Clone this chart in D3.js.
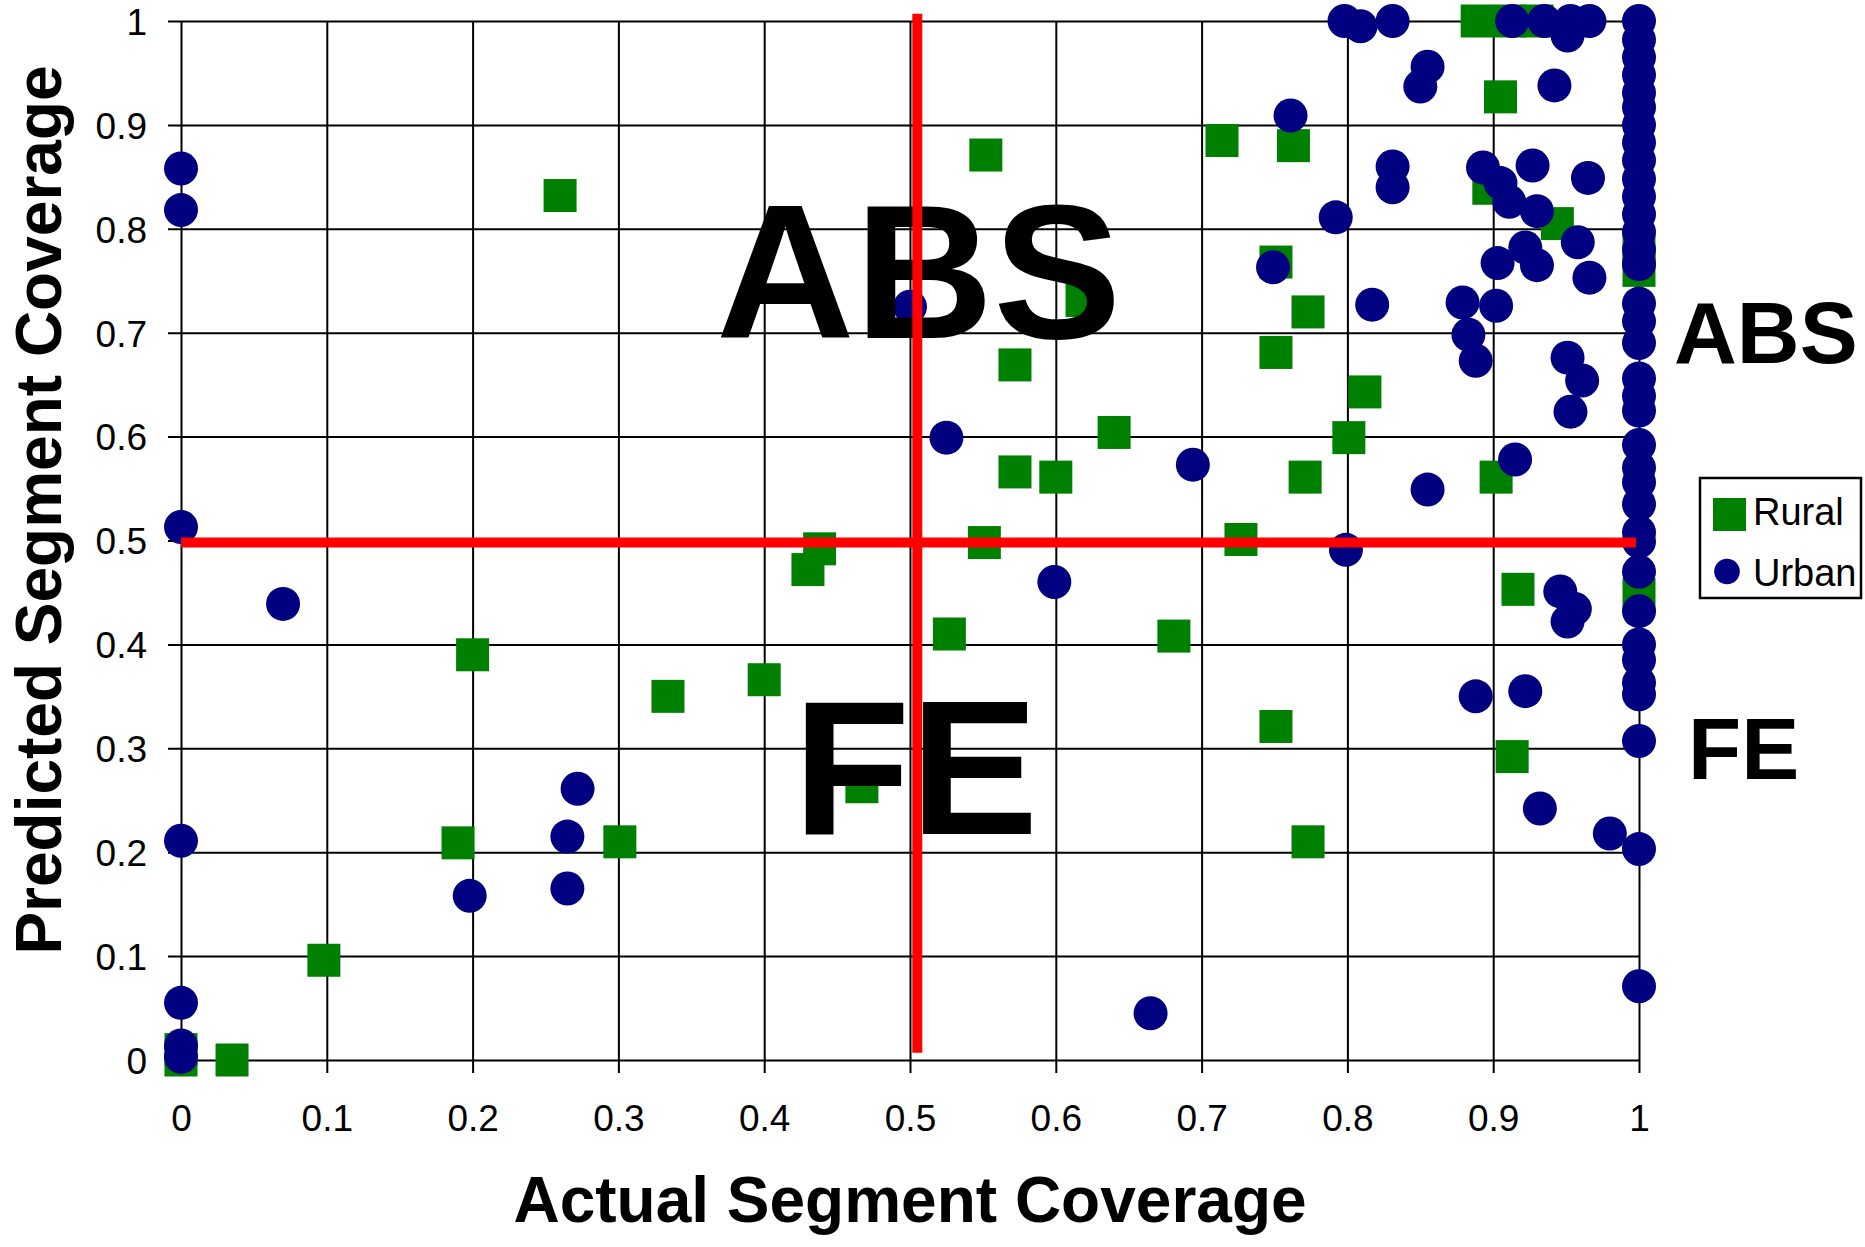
<!DOCTYPE html>
<html>
<head>
<meta charset="utf-8">
<script src="https://cdn.jsdelivr.net/npm/d3@7"></script>
<style>
  body { margin: 0; background: #fff; }
  text { font-family: "Liberation Sans", Arial, Helvetica, sans-serif; }
</style>
</head>
<body>
<div id="chart"></div>
<script>
const xTicks = [0, 0.1, 0.2, 0.3, 0.4, 0.5, 0.6, 0.7, 0.8, 0.9, 1];
const xTickLabels = ["0", "0.1", "0.2", "0.3", "0.4", "0.5", "0.6", "0.7", "0.8", "0.9", "1"];
const yTicks = [0, 0.1, 0.2, 0.3, 0.4, 0.5, 0.6, 0.7, 0.8, 0.9, 1];
const yTickLabels = ["0", "0.1", "0.2", "0.3", "0.4", "0.5", "0.6", "0.7", "0.8", "0.9", "1"];

// Rural segments (green squares)
const ruralX = [0.26, 0.552, 0.714, 0.763, 0.889, 0.911, 0.93, 0.905, 0.944, 0.897,
  0.751, 0.773, 0.751, 0.812, 1.0, 1.0, 0.801, 0.771, 0.902, 0.727,
  0.917, 1.0, 0.751, 0.913, 0.773, 0.64, 0.572, 0.6, 0.551, 0.438,
  0.43, 0.527, 0.681, 0.4, 0.334, 0.467, 0.572, 0.618, 0.2, 0.19,
  0.301, 0.098, 0.035, 0.0, 0.0];
const ruralY = [0.832, 0.871, 0.885, 0.88, 1.0, 1.0, 1.0, 0.927, 0.805, 0.839,
  0.768, 0.72, 0.681, 0.643, 0.78, 0.76, 0.599, 0.561, 0.561, 0.501,
  0.453, 0.448, 0.321, 0.292, 0.21, 0.604, 0.566, 0.561, 0.498, 0.492,
  0.472, 0.41, 0.408, 0.366, 0.35, 0.263, 0.669, 0.731, 0.39, 0.209,
  0.21, 0.096, 0.0, 0.0, 0.01];

// Urban segments (navy circles)
const urbanX = [0, 0, 0, 0, 0, 0, 0,
  0.07, 0.272, 0.265, 0.198, 0.265,
  0.665, 0.5, 0.525, 0.694, 0.599,
  0.798, 0.809, 0.831, 0.913, 0.935, 0.953, 0.966, 0.951,
  0.855, 0.85, 0.942, 0.761,
  0.831, 0.831, 0.893, 0.905, 0.911, 0.927, 0.93, 0.965,
  0.792, 0.749, 0.817, 0.903, 0.922, 0.93, 0.958, 0.966,
  0.879, 0.902, 0.883, 0.888, 0.951, 0.961, 0.953,
  0.915, 0.855, 0.799, 0.946, 0.956, 0.951,
  0.888, 0.922, 0.932, 0.98,
  1, 1, 1, 1, 1, 1, 1, 1, 1, 1, 1, 1, 1, 1, 1, 1, 1, 1,
  1, 1, 1, 1, 1, 1, 1, 1, 1, 1, 1, 1, 1, 1, 1, 1, 1, 1];
const urbanY = [0.858, 0.818, 0.513, 0.211, 0.055, 0.014, 0.003,
  0.439, 0.261, 0.215, 0.158, 0.165,
  0.045, 0.725, 0.599, 0.573, 0.46,
  1.0, 0.995, 1.0, 1.0, 1.0, 1.0, 1.0, 0.986,
  0.956, 0.937, 0.938, 0.909,
  0.86, 0.84, 0.859, 0.844, 0.826, 0.861, 0.817, 0.849,
  0.811, 0.763, 0.727, 0.767, 0.782, 0.765, 0.787, 0.753,
  0.729, 0.726, 0.698, 0.673, 0.676, 0.654, 0.624,
  0.578, 0.549, 0.491, 0.451, 0.434, 0.422,
  0.35, 0.355, 0.242, 0.218,
  1.0, 0.982, 0.965, 0.948, 0.931, 0.917, 0.9, 0.883, 0.866, 0.848, 0.831, 0.814,
  0.797, 0.78, 0.766, 0.728, 0.711, 0.69, 0.656, 0.639, 0.625, 0.592, 0.57, 0.556,
  0.535, 0.508, 0.499, 0.47, 0.432, 0.4, 0.385, 0.363, 0.352, 0.307, 0.203, 0.071];

// Quadrant divider lines, in data units
const dividerX1 = [0.505, 0];
const dividerY1 = [0.007, 0.498];
const dividerX2 = [0.505, 0.998];
const dividerY2 = [1.007, 0.498];

const rural = ruralX.map((v, i) => ({ x: v, y: ruralY[i] }));
const urban = urbanX.map((v, i) => ({ x: v, y: urbanY[i] }));
const dividers = dividerX1.map((v, i) => ({ x1: v, y1: dividerY1[i], x2: dividerX2[i], y2: dividerY2[i] }));

const width = 1865;
const height = 1247;
const green = "#008000";
const navy = "#000080";

const svg = d3.select("#chart").append("svg")
  .attr("width", width)
  .attr("height", height)
  .style("display", "block")
  .style("background", "#fff");

const x = d3.scaleLinear().domain([0, 1]).range([181, 1639]);
const y = d3.scaleLinear().domain([0, 1]).range([1060, 21]);
const tickOut = 13;

// Vertical grid lines + x ticks
const xAxis = svg.append("g")
  .attr("transform", `translate(0, ${y(0) + tickOut})`)
  .call(d3.axisBottom(x)
    .tickValues(xTicks)
    .tickFormat((d, i) => xTickLabels[i])
    .tickSize(-(y(0) + tickOut - y(1)))
    .tickPadding(32));
xAxis.select(".domain").remove();
xAxis.selectAll("line").attr("stroke", "#000").attr("stroke-width", 2);
xAxis.selectAll("text")
  .attr("fill", "#000")
  .style("font-size", "37px")
  .style("font-family", "'Liberation Sans', Arial, sans-serif");

// Horizontal grid lines + y ticks
const yAxis = svg.append("g")
  .attr("transform", `translate(${x(0) - tickOut}, 0)`)
  .call(d3.axisLeft(y)
    .tickValues(yTicks)
    .tickFormat((d, i) => yTickLabels[i])
    .tickSize(-(x(1) - x(0) + tickOut))
    .tickPadding(21));
yAxis.select(".domain").remove();
yAxis.selectAll("line").attr("stroke", "#000").attr("stroke-width", 2);
yAxis.selectAll("text")
  .attr("fill", "#000")
  .attr("dy", "0.36em")
  .style("font-size", "37px")
  .style("font-family", "'Liberation Sans', Arial, sans-serif");

// Markers
const sq = 33;
svg.append("g").selectAll("rect")
  .data(rural)
  .join("rect")
  .attr("x", d => x(d.x) - sq / 2)
  .attr("y", d => y(d.y) - sq / 2)
  .attr("width", sq)
  .attr("height", sq)
  .attr("fill", green);

svg.append("g").selectAll("circle")
  .data(urban)
  .join("circle")
  .attr("cx", d => x(d.x))
  .attr("cy", d => y(d.y))
  .attr("r", 17)
  .attr("fill", navy);

// Region labels
const labels = svg.append("g").attr("font-weight", "bold").attr("fill", "#000");
labels.append("text").attr("x", 716).attr("y", 338).attr("font-size", 192).text("ABS");
labels.append("text").attr("x", 793).attr("y", 834).attr("font-size", 192).text("FE");
labels.append("text").attr("x", 1674).attr("y", 363).attr("font-size", 87).text("ABS");
labels.append("text").attr("x", 1688).attr("y", 779).attr("font-size", 87).text("FE");

// Red quadrant lines on top
svg.append("g").selectAll("line")
  .data(dividers)
  .join("line")
  .attr("x1", d => x(d.x1))
  .attr("y1", d => y(d.y1))
  .attr("x2", d => x(d.x2))
  .attr("y2", d => y(d.y2))
  .attr("stroke", "#ff0000")
  .attr("stroke-width", 10);

// Axis titles
svg.append("text")
  .attr("x", (x(0) + x(1)) / 2)
  .attr("y", 1222)
  .attr("text-anchor", "middle")
  .attr("font-size", 64)
  .attr("font-weight", "bold")
  .text("Actual Segment Coverage");

svg.append("text")
  .attr("transform", "translate(61, 510) rotate(-90)")
  .attr("text-anchor", "middle")
  .attr("font-size", 64)
  .attr("font-weight", "bold")
  .text("Predicted Segment Coverage");

// Legend
const legend = svg.append("g").attr("transform", "translate(1700, 478)");
legend.append("rect")
  .attr("width", 161)
  .attr("height", 120)
  .attr("fill", "#fff")
  .attr("stroke", "#000")
  .attr("stroke-width", 2.5);
legend.append("rect")
  .attr("x", 13).attr("y", 20)
  .attr("width", sq).attr("height", sq)
  .attr("fill", green);
legend.append("circle")
  .attr("cx", 27).attr("cy", 93.5)
  .attr("r", 12.8)
  .attr("fill", navy);
legend.append("text").attr("x", 53).attr("y", 47).attr("font-size", 38).text("Rural");
legend.append("text").attr("x", 53).attr("y", 108).attr("font-size", 38).text("Urban");
</script>
</body>
</html>
